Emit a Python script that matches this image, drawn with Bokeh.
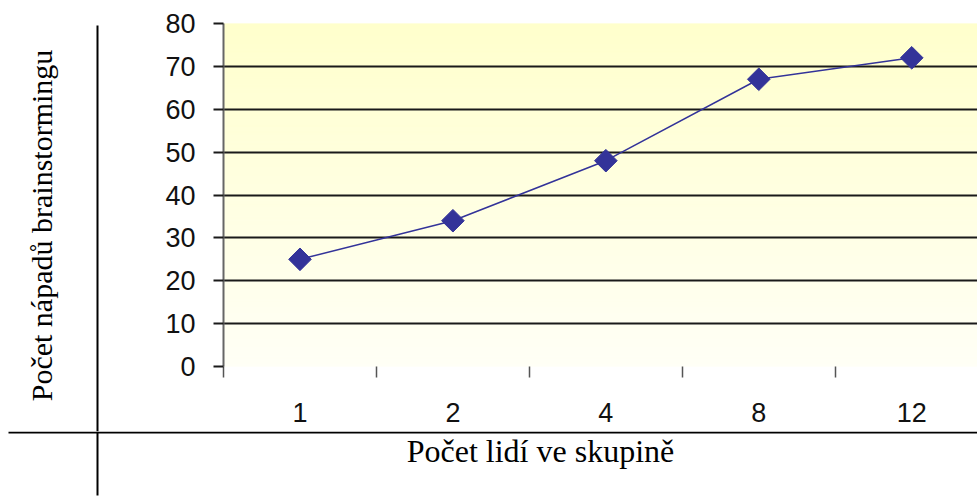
import numpy as np
from bokeh.plotting import figure
from bokeh.layouts import column, row
from bokeh.models import Range1d, FixedTicker, Grid, Label
from bokeh.embed import file_html
from bokeh.resources import INLINE

# group sizes and number of brainstorming ideas
categories = ["1", "2", "4", "8", "12"]
ideas = [25, 34, 48, 67, 72]
y_ticks = [0, 10, 20, 30, 40, 50, 60, 70, 80]

Y_MAX = 80
W, H = 977, 500
LEFT_W = 100       # width of the left table column (vertical title)
RULE_X = 96        # x position of the table's column rule
TOP_H = 431        # height of the upper table row (chart)
BOT_H = H - TOP_H  # lower table row (horizontal title)
CHART_W = W - LEFT_W

x_pos = list(range(len(categories)))


def blank(width, height):
    """A figure whose frame fills the whole canvas, measured in pixels from top-left."""
    f = figure(width=width, height=height, output_backend="svg", toolbar_location=None,
               x_range=Range1d(0, width), y_range=Range1d(height, 0),
               x_axis_location=None, y_axis_location=None,
               min_border=0, outline_line_color=None, frame_align=False)
    f.grid.visible = False
    f.background_fill_color = "white"
    f.border_fill_color = "white"
    return f


# ---- chart cell ----
p = figure(width=CHART_W, height=TOP_H, output_backend="svg", toolbar_location=None,
           x_range=Range1d(-0.5, 4.43), y_range=Range1d(0, Y_MAX),
           min_border_left=223 - LEFT_W, min_border_right=0, min_border_top=23,
           min_border_bottom=TOP_H - 366, frame_align=False)
p.outline_line_color = None
p.background_fill_color = "white"
p.border_fill_color = "white"

# pale yellow gradient behind the plot area (white at bottom, yellow at top)
n = 120
edges = np.linspace(0, Y_MAX, n + 1)
bottom_rgb = np.array([255, 255, 246])
top_rgb = np.array([255, 255, 204])
cols = []
for i in range(n):
    t = (i + 0.5) / n
    c = (bottom_rgb * (1 - t) + top_rgb * t).round().astype(int)
    cols.append("#%02x%02x%02x" % tuple(c))
p.hbar(y=(edges[:-1] + edges[1:]) / 2, height=Y_MAX / n * 1.02, left=-10, right=10,
       color=cols, level="underlay")

# grid
p.xgrid.visible = False
p.ygrid.ticker = FixedTicker(ticks=y_ticks[1:-1])
p.ygrid.grid_line_color = "#1a1a1a"
p.ygrid.grid_line_width = 2
p.add_layout(Grid(dimension=1, ticker=FixedTicker(ticks=[Y_MAX]),
                  grid_line_color="#9a9a9a", grid_line_width=2))

# y axis
ya = p.yaxis[0]
ya.ticker = FixedTicker(ticks=y_ticks)
ya.axis_line_color = "#666666"
ya.axis_line_width = 2
ya.major_tick_out = 10
ya.major_tick_in = 0
ya.major_tick_line_color = "#1a1a1a"
ya.major_tick_line_width = 2
ya.minor_tick_line_color = None
ya.major_label_standoff = 18
ya.major_label_text_font = "Liberation Sans"
ya.major_label_text_font_size = "27px"
ya.major_label_text_color = "#111111"

# x axis: labels at category centres, small ticks between categories
xa = p.xaxis[0]
xa.ticker = FixedTicker(ticks=x_pos,
                        minor_ticks=[i - 0.5 for i in range(len(categories) + 1)])
xa.major_label_overrides = {i: c for i, c in enumerate(categories)}
xa.axis_line_color = None
xa.major_tick_line_color = None
xa.major_tick_out = 0
xa.major_tick_in = 0
xa.minor_tick_out = 11
xa.minor_tick_in = 0
xa.minor_tick_line_color = "#555555"
xa.minor_tick_line_width = 1.5
xa.major_label_standoff = 25
xa.major_label_text_font = "Liberation Sans"
xa.major_label_text_font_size = "27px"
xa.major_label_text_color = "#111111"

# series
p.line(x_pos, ideas, line_color="#333399", line_width=1.5)
p.scatter(x_pos, ideas, marker="square", angle=np.pi / 4, size=16,
          fill_color="#333399", line_color="#333399")

# ---- left cell: vertical title and column rule ----
left = blank(LEFT_W, TOP_H)
left.quad(left=[RULE_X], right=[RULE_X + 2], top=[25], bottom=[TOP_H],
          fill_color="black", line_color=None)
left.add_layout(Label(x=41, y=TOP_H - 225, x_units="screen", y_units="screen",
                      text="Počet nápadů brainstormingu", angle=np.pi / 2,
                      text_align="center", text_baseline="alphabetic",
                      text_font="Liberation Serif", text_font_size="30px",
                      text_color="black"))

# ---- bottom row: row rule, column rule and horizontal title ----
bottom = blank(W, BOT_H)
bottom.quad(left=[8], right=[W], top=[0], bottom=[2], fill_color="black", line_color=None)
bottom.quad(left=[RULE_X], right=[RULE_X + 2], top=[0], bottom=[495 - TOP_H],
            fill_color="black", line_color=None)
bottom.add_layout(Label(x=540, y=BOT_H - (450 - TOP_H), x_units="screen", y_units="screen",
                        text="Počet lidí ve skupině",
                        text_align="center", text_baseline="alphabetic",
                        text_font="Liberation Serif", text_font_size="32px",
                        text_color="black"))

layout = column(row(left, p, spacing=0), bottom, spacing=0)

open("out.html", "w").write(file_html(layout, INLINE))
